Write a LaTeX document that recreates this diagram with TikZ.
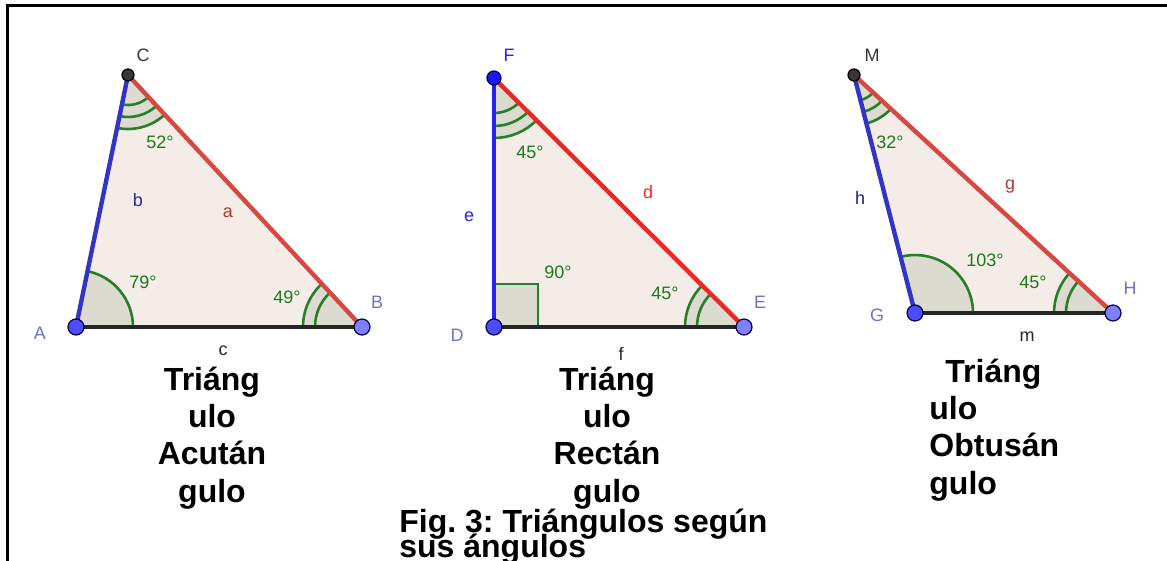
\documentclass[tikz,border=0pt]{standalone}
\usepackage{fontspec}
\setmainfont{Liberation Sans}
\usetikzlibrary{angles,calc}

\definecolor{ptblue}{RGB}{77,77,255}
\definecolor{ptlight}{RGB}{128,128,255}
\definecolor{ptdark}{RGB}{55,55,55}
\definecolor{ptF}{RGB}{25,25,255}
\definecolor{redA}{RGB}{214,72,66}
\definecolor{blueA}{RGB}{52,52,196}
\definecolor{redD}{RGB}{236,40,36}
\definecolor{blueD}{RGB}{36,36,236}
\definecolor{sideblk}{RGB}{38,38,38}
\definecolor{polyfill}{RGB}{244,236,231}
\definecolor{angc}{RGB}{42,125,42}
\definecolor{angf}{RGB}{219,219,207}
\definecolor{angtxt}{RGB}{30,120,30}
\definecolor{lblpt}{RGB}{112,112,200}

\tikzset{ptb/.style={circle,draw=black!75!blue,line width=.6pt,fill=ptblue,inner sep=0pt,minimum size=8pt}}
\tikzset{ptl/.style={ptb,fill=ptlight}}
\tikzset{ptd/.style={ptb,draw=black,fill=ptdark,minimum size=6pt}}
\tikzset{lbl/.style={font=\fontsize{9}{11}\selectfont,inner sep=0pt}}
\tikzset{ang/.style={lbl,text=angtxt}}
\tikzset{side/.style={line width=2.2pt}}
\tikzset{poly/.style={fill=polyfill}}
\tikzset{arcs/.style={draw=angc,line width=1.3pt}}
\tikzset{tit/.style={font=\fontsize{16}{18.6}\selectfont\bfseries,inner sep=0pt,anchor=base,align=center}}
\tikzset{figcap/.style={font=\fontsize{16}{18}\selectfont\bfseries\frenchspacing,inner sep=0pt,anchor=base west}}

\begin{document}
\begin{tikzpicture}[x=.5pt,y=-.5pt]
\useasboundingbox (0,0) rectangle (1167,561);
\draw[line width=1.5pt] (7,561) -- (7,6) -- (1167,6);

% acutangulo
\coordinate (A) at (76,327);
\coordinate (B) at (362,327);
\coordinate (C) at (128,75);
\fill[poly] (A) -- (B) -- (C) -- cycle;
\pic[arcs,fill=angf,angle radius=28.5pt] {angle=B--A--C};
\pic[arcs,fill=angf,angle radius=29.5pt] {angle=C--B--A};
\pic[arcs,angle radius=23.5pt] {angle=C--B--A};
\pic[arcs,fill=angf,angle radius=27pt] {angle=A--C--B};
\pic[arcs,angle radius=21pt] {angle=A--C--B};
\pic[arcs,angle radius=15pt] {angle=A--C--B};
\draw[side,sideblk] (A) -- (B);
\draw[side,redA] (B) -- (C);
\draw[side,blueA] (C) -- (A);
\node[ptb] (nA) at (A) {};
\node[ptl] (nB) at (B) {};
\node[ptd] (nC) at (C) {};
\node[lbl,text=lblpt] (lA) at (40,333) {A};
\node[lbl,text=lblpt] (lB) at (377,302) {B};
\node[lbl,text=ptdark] (lC) at (143,55) {C};
\node[lbl,text=blueA!80!black] (lb) at (138,200) {b};
\node[lbl,text=redA!80!black] (la) at (228,213) {a};
\node[lbl,text=sideblk] (lc) at (223,351) {c};
\node[ang] (a52) at (160,142) {52°};
\node[ang] (a79) at (143,282) {79°};
\node[ang] (a49) at (287,297) {49°};

% rectangulo
\coordinate (D) at (494,327);
\coordinate (E) at (744,327);
\coordinate (F) at (494,78);
\fill[poly] (D) -- (E) -- (F) -- cycle;
\draw[arcs,fill=angf] (D) rectangle ($(D)+(44,-43)$);
\pic[arcs,fill=angf,angle radius=29.5pt] {angle=F--E--D};
\pic[arcs,angle radius=23.5pt] {angle=F--E--D};
\pic[arcs,fill=angf,angle radius=30pt] {angle=D--F--E};
\pic[arcs,angle radius=24pt] {angle=D--F--E};
\pic[arcs,angle radius=17.5pt] {angle=D--F--E};
\draw[side,sideblk] (D) -- (E);
\draw[side,redD] (E) -- (F);
\draw[side,blueD] (F) -- (D);
\node[ptb] (nD) at (D) {};
\node[ptl] (nE) at (E) {};
\node[ptb,fill=ptF,minimum size=7pt] (nF) at (F) {};
\node[lbl,text=lblpt] (lD) at (457,335) {D};
\node[lbl,text=lblpt] (lE) at (760,302) {E};
\node[lbl,text=blueD] (lF) at (509,55) {F};
\node[lbl,text=blueD] (le) at (469,217) {e};
\node[lbl,text=redD] (ld) at (648,192) {d};
\node[lbl,text=sideblk] (lf) at (621,354) {f};
\node[ang] (a45f) at (530,152) {45°};
\node[ang] (a90) at (558,272) {90°};
\node[ang] (a45e) at (665,293) {45°};

% obtusangulo
\coordinate (G) at (915,313);
\coordinate (H) at (1113,313);
\coordinate (M) at (854,75);
\fill[poly] (G) -- (H) -- (M) -- cycle;
\pic[arcs,fill=angf,angle radius=29pt] {angle=H--G--M};
\pic[arcs,fill=angf,angle radius=29.5pt] {angle=M--H--G};
\pic[arcs,angle radius=23.5pt] {angle=M--H--G};
\pic[arcs,fill=angf,angle radius=25pt] {angle=G--M--H};
\pic[arcs,angle radius=19pt] {angle=G--M--H};
\pic[arcs,angle radius=13pt] {angle=G--M--H};
\draw[side,sideblk] (G) -- (H);
\draw[side,redA] (H) -- (M);
\draw[side,blueA] (M) -- (G);
\node[ptb] (nG) at (G) {};
\node[ptl] (nH) at (H) {};
\node[ptd] (nM) at (M) {};
\node[lbl,text=lblpt] (lG) at (877,315) {G};
\node[lbl,text=lblpt] (lH) at (1130,288) {H};
\node[lbl,text=ptdark] (lM) at (872,55) {M};
\node[lbl,text=blueA!60!black] (lh) at (860,198) {h};
\node[lbl,text=redA!80!black] (lg) at (1010,187) {g};
\node[lbl,text=sideblk] (lm) at (1027,337) {m};
\node[ang] (a32) at (890,142) {32°};
\node[ang] (a103) at (985,260) {103°};
\node[ang] (a45h) at (1033,282) {45°};

% textos
\node[tit] (tacu) at (212,502) {Triáng\\ulo\\Acután\\gulo};
\node[tit] (trec) at (607,502) {Triáng\\ulo\\Rectán\\gulo};
\node[tit,anchor=base west,align=left] (tobt) at (929,494) {\hspace*{8pt}Triáng\\ulo\\Obtusán\\gulo};
\node[figcap] (cap1) at (399,532) {Fig. 3: Triángulos según};
\node[figcap] (cap2) at (399,557) {sus ángulos};
\end{tikzpicture}
\end{document}
